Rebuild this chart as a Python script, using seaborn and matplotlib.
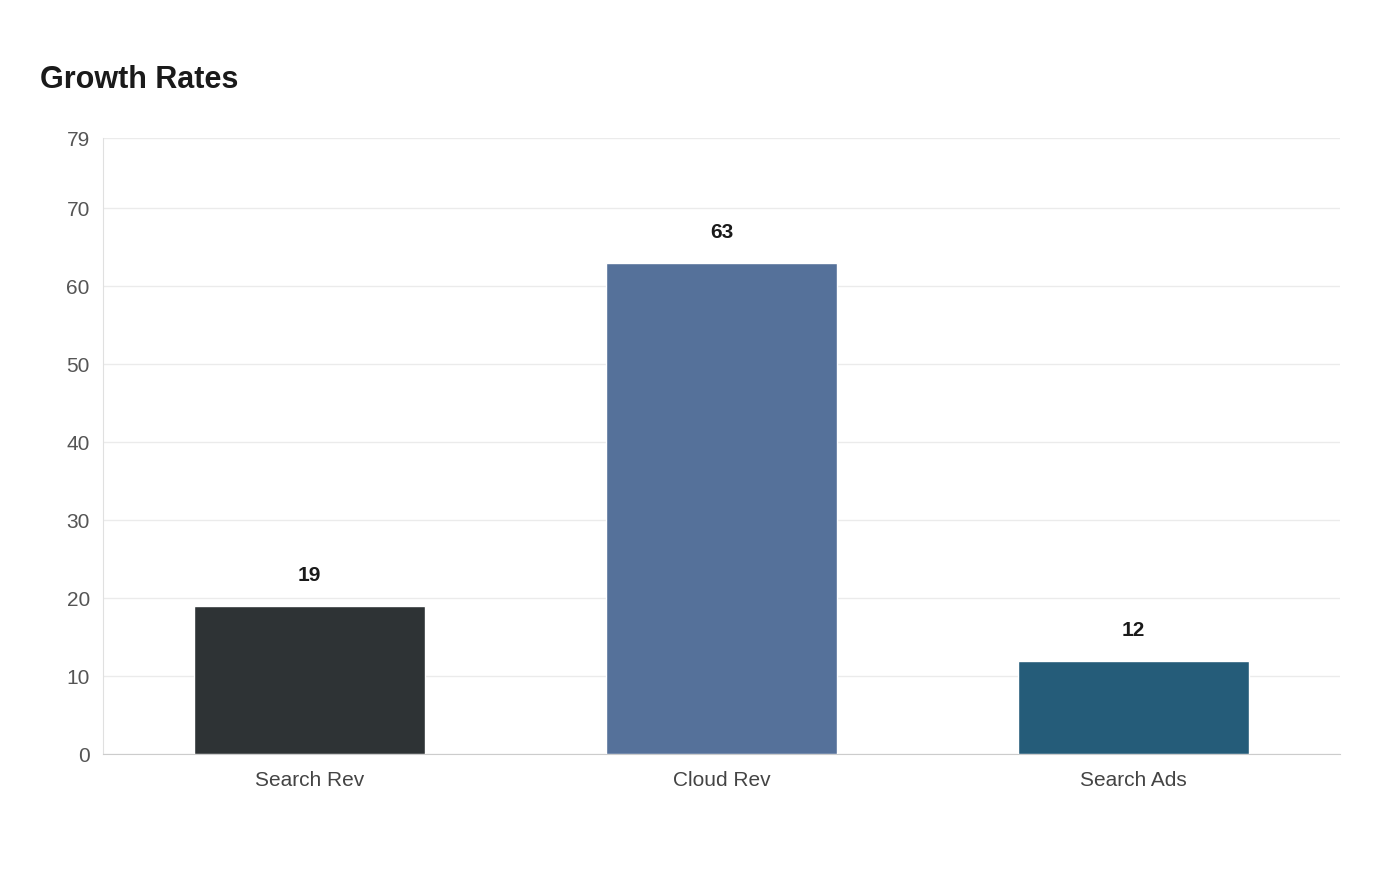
import matplotlib
matplotlib.use('Agg')
import matplotlib.pyplot as plt
import seaborn as sns
import pandas as pd

categories = ['Search Rev', 'Cloud Rev', 'Search Ads']
values = [19, 63, 12]
colors = ['#2d3436', '#4a6fa5', '#176087']
yticks = [0, 10, 20, 30, 40, 50, 60, 70, 79]

sns.set_style('white')
plt.rcParams['font.family'] = ['Liberation Sans', 'DejaVu Sans']

df = pd.DataFrame({'cat': categories, 'val': values})

fig = plt.figure(figsize=(14, 8.8), dpi=100)
ax = fig.add_axes([0.0736, 0.143, 0.8834, 0.7])
sns.barplot(data=df, x='cat', y='val', hue='cat', palette=colors,
            width=0.56, legend=False, ax=ax, zorder=3)

ax.set_xlim(-0.5, 2.5)
ax.set_ylim(0, 79)
ax.set_yticks(yticks)
ax.grid(axis='y', color='#ebebeb', linewidth=1, zorder=0)
for s in ['top', 'right']:
    ax.spines[s].set_visible(False)
ax.spines['left'].set_color('#e0e0e0')
ax.spines['bottom'].set_color('#cccccc')
ax.tick_params(axis='y', labelsize=15, colors='#555555', length=6, color='#e0e0e0')
ax.tick_params(axis='x', labelsize=15, colors='#444444', length=0, pad=12)
ax.set_xlabel('')
ax.set_ylabel('')

for i, v in enumerate(values):
    ax.text(i, v + 2.7, str(v), ha='center', va='bottom', fontsize=15,
            fontweight='bold', color='#1a1a1a')

fig.text(40 / 1400, 1 - 80 / 880, 'Growth Rates', fontsize=22, fontweight='bold',
         color='#1a1a1a', va='center', ha='left')

fig.savefig('out.png', dpi=100)
